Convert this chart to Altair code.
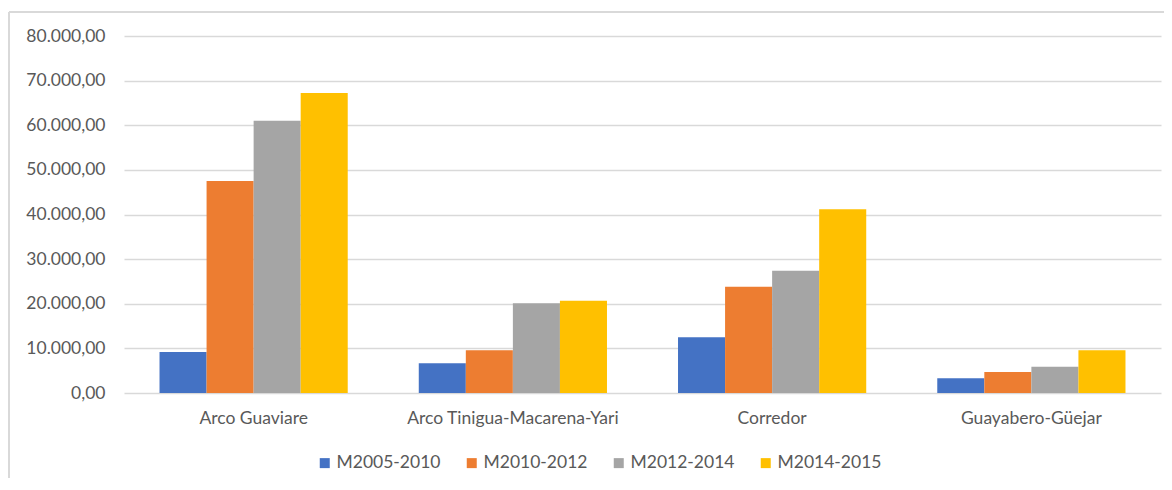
import altair as alt
import pandas as pd

categories = ["Arco Guaviare", "Arco Tinigua-Macarena-Yari", "Corredor", "Guayabero-Güejar"]
series_names = ["M2005-2010", "M2010-2012", "M2012-2014", "M2014-2015"]
m2005_2010 = [9200, 6650, 12500, 3300]
m2010_2012 = [47500, 9600, 23800, 4700]
m2012_2014 = [61000, 20100, 27400, 5900]
m2014_2015 = [67200, 20700, 41200, 9600]
colors = ["#4472C4", "#ED7D31", "#A5A5A5", "#FFC000"]
y_ticks = [0, 10000, 20000, 30000, 40000, 50000, 60000, 70000, 80000]

rows = []
for name, vals in zip(series_names, [m2005_2010, m2010_2012, m2012_2014, m2014_2015]):
    for cat, v in zip(categories, vals):
        rows.append({"zona": cat, "serie": name, "valor": v})
df = pd.DataFrame(rows)

FONT = "Lato"
GREY = "#595959"

bars = alt.Chart(df).mark_bar().encode(
    x=alt.X("zona:N", sort=categories, title=None,
            scale=alt.Scale(paddingInner=0.274, paddingOuter=0.137),
            axis=alt.Axis(labelAngle=0, domain=False, ticks=False, labelPadding=16, labelLimit=0,
                          labelFont=FONT, labelFontSize=17.5, labelColor=GREY)),
    xOffset=alt.XOffset("serie:N", sort=series_names, scale=alt.Scale(paddingInner=0, paddingOuter=0)),
    y=alt.Y("valor:Q", title=None,
            scale=alt.Scale(domain=[0, 80000], nice=False),
            axis=alt.Axis(values=y_ticks, domain=False, ticks=False, labelPadding=19,
                          grid=True, gridColor="#d9d9d9", gridWidth=1.5,
                          labelFont=FONT, labelFontSize=17.5, labelColor=GREY,
                          labelExpr="replace(replace(replace(format(datum.value, ',.2f'), ',', '#'), '.', ','), '#', '.')")),
    color=alt.Color("serie:N", sort=series_names, title=None,
                    scale=alt.Scale(domain=series_names, range=colors),
                    legend=alt.Legend(orient="none", direction="horizontal", legendX=192, legendY=418,
                                      symbolType="square", symbolSize=100, symbolStrokeWidth=0,
                                      labelFont=FONT, labelFontSize=17.5, labelColor=GREY,
                                      labelOffset=3, columnPadding=22)),
)

frame_top = alt.Chart(df).mark_rule(color="#d9d9d9", strokeWidth=1.5).encode(
    x=alt.value(-115), x2=alt.value(1100), y=alt.value(-24))
frame_left = alt.Chart(df).mark_rule(color="#d9d9d9", strokeWidth=1.5).encode(
    x=alt.value(-115), y=alt.value(-24), y2=alt.value(500))

chart = alt.layer(frame_top, frame_left, bars).properties(
    width=1037, height=357,
    padding={"left": 116, "top": 28, "right": 3, "bottom": 85},
    autosize=alt.AutoSizeParams(type="none"),
    background="white",
).configure_view(stroke=None)

chart.save("out.html", embed_options={"renderer": "svg", "actions": False})
